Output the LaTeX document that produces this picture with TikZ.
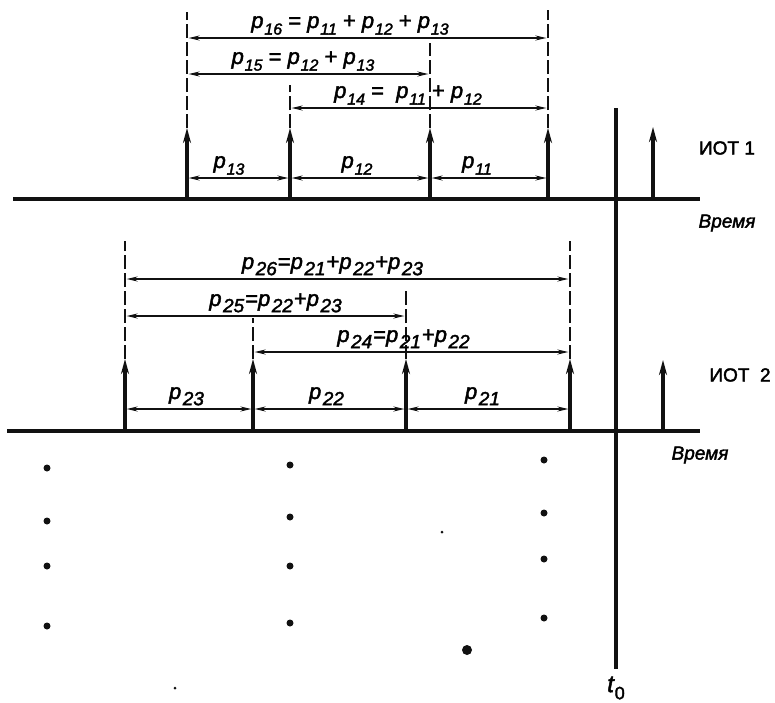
\documentclass[tikz,border=0pt]{standalone}
\usepackage{fontspec}
\setmainfont[FakeBold=2]{Liberation Sans}
\usepackage{xcolor}
\usetikzlibrary{arrows.meta}
\definecolor{ink}{HTML}{111111}
\tikzset{
  % --- time axes, t0 marker, impulses ---
  timeaxis/.style={line width=4pt, draw=ink},
  tzero/.style={line width=3.4pt, draw=ink},
  impulse/.style={line width=3.2pt, draw=ink,
                  -{Stealth[length=15pt,width=8pt]}},
  % --- interval dimension lines ---
  dimline/.style={line width=1.5pt, draw=ink, shorten <=1.6pt, shorten >=1.6pt,
                  {Stealth[length=11pt,width=5pt]}-{Stealth[length=11pt,width=5pt]}},
  extline/.style={line width=1.6pt, draw=ink, dash pattern=on 14pt off 4pt},
  % --- texts ---
  plabel/.style={anchor=base, inner sep=0pt, font=\fontsize{22}{24}\selectfont},
  srclabel/.style={inner sep=0pt, font=\fontsize{19}{21}\selectfont},
  timelabel/.style={inner sep=0pt, font=\fontsize{19}{21}\selectfont\itshape},
  % --- dots of the further sources ---
  dot/.style={circle, fill=ink, inner sep=0pt, minimum size=7pt},
}
% p with index: top row (smaller index) and bottom row (larger index)
\newcommand{\pk}[1]{\textit{p}\kern0.8pt\raisebox{-0.3em}{\fontsize{16}{16}\selectfont\textit{#1}}}
\newcommand{\pkk}[1]{\textit{p}\kern1.5pt\raisebox{-0.28em}{\fontsize{19}{19}\selectfont\textit{#1}}\kern1pt}

\begin{document}
\begin{tikzpicture}[x=1pt,y=-1pt]
  \useasboundingbox (0,0) rectangle (775,702);

  % --- t0 marker ---
  \coordinate (t0top) at (616,108);
  \node[inner sep=0pt, font=\fontsize{24}{26}\selectfont] (t0) at (616,688)
        {\textit{t}\raisebox{-0.3em}{\fontsize{18}{18}\selectfont 0}};
  \draw[tzero] (t0top) -- ([yshift=7pt]t0.north);

  % --- ИОТ 1: axis and impulses ---
  \coordinate (ax1a) at (13,199);
  \coordinate (ax1b) at (700,199);
  \draw[timeaxis] (ax1a) -- (ax1b);
  \foreach \n/\x in {1/187,2/290,3/430,4/548}{
    \coordinate (u\n) at (\x,199);
    \coordinate (ut\n) at (\x,128);
    \draw[impulse] (u\n) -- (ut\n);
  }
  \coordinate (u5) at (653,199);
  \coordinate (ut5) at (653,127);
  \draw[impulse] (u5) -- (ut5);
  \node[srclabel] (src1) at (727,148) {ИОТ 1};
  \node[timelabel] (time1) at (727,223) {Время};

  % extension lines
  \coordinate (e1) at (187,12);
  \coordinate (e2) at (290,85);
  \coordinate (e3) at (430,43);
  \coordinate (e4) at (548,10);
  \foreach \n in {1,2,3,4}
    \draw[extline] (ut\n) -- (e\n);

  % interval levels
  \coordinate (lv16) at (0,38);
  \coordinate (lv15) at (0,74);
  \coordinate (lv14) at (0,108);
  \coordinate (lv1) at (0,178);
  \draw[dimline] (u1 |- lv16) -- (u4 |- lv16);
  \draw[dimline] (u1 |- lv15) -- (u3 |- lv15);
  \draw[dimline] (u2 |- lv14) -- (u4 |- lv14);
  \draw[dimline] (u1 |- lv1) -- (u2 |- lv1);
  \draw[dimline] (u2 |- lv1) -- (u3 |- lv1);
  \draw[dimline] (u3 |- lv1) -- (u4 |- lv1);
  \node[plabel] (l16) at (350,28) {\pk{16} = \pk{11} + \pk{12} + \pk{13}};
  \node[plabel] (l15) at (303,64) {\pk{15} = \pk{12} + \pk{13}};
  \node[plabel] (l14) at (408,98) {\pk{14} =\ \ \pk{11} + \pk{12}};
  \node[plabel] (l13) at (229,168) {\pk{13}};
  \node[plabel] (l12) at (357,168) {\pk{12}};
  \node[plabel] (l11) at (477,168) {\pk{11}};

  % --- ИОТ 2: axis and impulses ---
  \coordinate (ax2a) at (7,431);
  \coordinate (ax2b) at (700,431);
  \draw[timeaxis] (ax2a) -- (ax2b);
  \foreach \n/\x in {1/125,2/253,3/406,4/570}{
    \coordinate (v\n) at (\x,431);
    \coordinate (vt\n) at (\x,359);
    \draw[impulse] (v\n) -- (vt\n);
  }
  \coordinate (v5) at (663,431);
  \coordinate (vt5) at (663,360);
  \draw[impulse] (v5) -- (vt5);
  \node[srclabel] (src2) at (740,375) {ИОТ\ \ 2};
  \node[timelabel] (time2) at (700,455) {Время};

  % extension lines
  \coordinate (f1) at (125,241);
  \coordinate (f2) at (253,318);
  \coordinate (f3) at (406,288);
  \coordinate (f4) at (570,241);
  \foreach \n in {1,2,3,4}
    \draw[extline] (vt\n) -- (f\n);

  % interval levels
  \coordinate (lv26) at (0,279);
  \coordinate (lv25) at (0,316);
  \coordinate (lv24) at (0,352);
  \coordinate (lv2) at (0,409);
  \draw[dimline] (v1 |- lv26) -- (v4 |- lv26);
  \draw[dimline] (v1 |- lv25) -- (v3 |- lv25);
  \draw[dimline] (v2 |- lv24) -- (v4 |- lv24);
  \draw[dimline] (v1 |- lv2) -- (v2 |- lv2);
  \draw[dimline] (v2 |- lv2) -- (v3 |- lv2);
  \draw[dimline] (v3 |- lv2) -- (v4 |- lv2);
  \node[plabel] (l26) at (333,269) {\pkk{26}=\pkk{21}+\pkk{22}+\pkk{23}};
  \node[plabel] (l25) at (276,306) {\pkk{25}=\pkk{22}+\pkk{23}};
  \node[plabel] (l24) at (404,342) {\pkk{24}=\pkk{21}+\pkk{22}};
  \node[plabel] (l23) at (187,399) {\pkk{23}};
  \node[plabel] (l22) at (327,399) {\pkk{22}};
  \node[plabel] (l21) at (483,399) {\pkk{21}};

  % --- further sources (dots) ---
  \foreach \n/\x/\y in {1/47/468,2/47/521,3/47/566,4/47/626,
                        5/290/465,6/290/517,7/290/566,8/290/623,
                        9/544/460,10/544/513,11/544/559,12/544/618}
    \node[dot] (d\n) at (\x,\y) {};
  \node[dot, minimum size=10pt] (d13) at (467,650) {};
  \node[dot, minimum size=3pt] (d14) at (442,532) {};
  \node[dot, minimum size=3pt] (d15) at (175,688) {};
\end{tikzpicture}
\end{document}
